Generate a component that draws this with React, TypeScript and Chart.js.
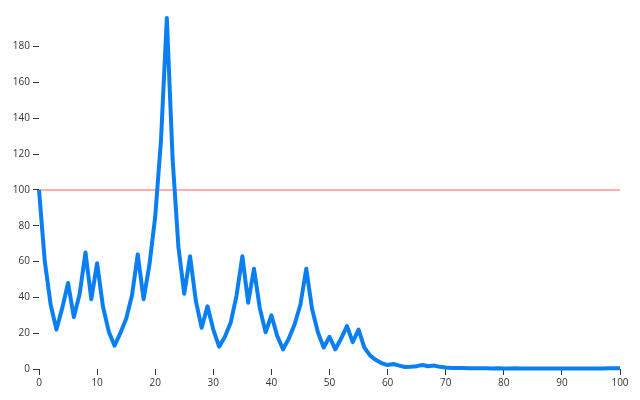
import React, { useEffect, useRef } from "react";
import { Chart, registerables } from "chart.js";

Chart.register(...registerables);

// Series values sampled at x = 0, 1, 2, ... 100
const seriesValues: number[] = [
  100, 60, 36, 22, 34, 48, 29, 42, 65, 39,
  59, 35, 21, 13, 20, 28, 41, 64, 39, 58,
  85, 128, 196, 117, 68, 42, 63, 38, 23, 35,
  22, 12.5, 18, 26, 41, 63, 37, 56, 34, 20.5,
  30, 18.5, 11, 17, 25, 36, 56, 33.5, 20.5, 12,
  18, 11, 17, 24, 15, 22, 12, 7.5, 5, 3.2,
  2.2, 2.8, 1.9, 1.1, 1.3, 1.6, 2.2, 1.5, 1.9, 1.2,
  0.8, 0.6, 0.5, 0.5, 0.4, 0.4, 0.4, 0.4, 0.3, 0.4,
  0.3, 0.3, 0.4, 0.3, 0.3, 0.3, 0.3, 0.3, 0.3, 0.3,
  0.3, 0.3, 0.3, 0.3, 0.3, 0.3, 0.3, 0.3, 0.4, 0.4,
  0.4,
];

const thresholdValue = 100;
const xMin = 0;
const xMax = 100;
const xTickStep = 10;
const yTickStep = 20;

export default function App() {
  const canvasRef = useRef<HTMLCanvasElement | null>(null);

  useEffect(() => {
    document.body.style.margin = "0";
    const canvas = canvasRef.current;
    if (!canvas) return;

    const points = seriesValues.map((v, i) => ({ x: xMin + i, y: v }));
    const yMax = Math.max(...seriesValues);

    const chart = new Chart(canvas, {
      type: "line",
      data: {
        datasets: [
          {
            data: points,
            borderColor: "#0a7ff2",
            borderWidth: 4,
            borderJoinStyle: "round",
            pointRadius: 0,
            tension: 0,
            fill: false,
            clip: false as any,
          },
          {
            data: [
              { x: xMin, y: thresholdValue },
              { x: xMax, y: thresholdValue },
            ],
            borderColor: "rgba(255, 90, 90, 0.65)",
            borderWidth: 1.5,
            pointRadius: 0,
            fill: false,
          },
        ],
      },
      options: {
        responsive: false,
        animation: false,
        devicePixelRatio: 1,
        layout: { padding: { top: 18, right: 20, left: 0, bottom: 0 } },
        plugins: {
          legend: { display: false },
          tooltip: { enabled: false },
        },
        scales: {
          x: {
            type: "linear",
            min: xMin,
            max: xMax,
            ticks: {
              stepSize: xTickStep,
              color: "#333",
              padding: 2,
              maxRotation: 0,
              font: { family: "'Open Sans', sans-serif", size: 10 },
            },
            grid: {
              drawOnChartArea: false,
              drawTicks: true,
              tickLength: 6,
              color: "#333",
              lineWidth: 1,
            },
            border: { display: false },
            afterFit: (scale: any) => {
              scale.height = 31;
            },
          },
          y: {
            type: "linear",
            min: 0,
            max: yMax,
            afterBuildTicks: (scale: any) => {
              scale.ticks = scale.ticks.filter(
                (t: any) => t.value % yTickStep === 0
              );
            },
            ticks: {
              stepSize: yTickStep,
              color: "#333",
              padding: 3,
              font: { family: "'Open Sans', sans-serif", size: 10 },
            },
            grid: {
              drawOnChartArea: false,
              drawTicks: true,
              tickLength: 6,
              color: "#333",
              lineWidth: 1,
            },
            border: { display: false },
            afterFit: (scale: any) => {
              scale.width = 39;
            },
          },
        },
      },
    });

    return () => {
      chart.destroy();
    };
  }, []);

  return (
    <div style={{ width: 640, height: 400 }}>
      <canvas ref={canvasRef} width={640} height={400} />
    </div>
  );
}
